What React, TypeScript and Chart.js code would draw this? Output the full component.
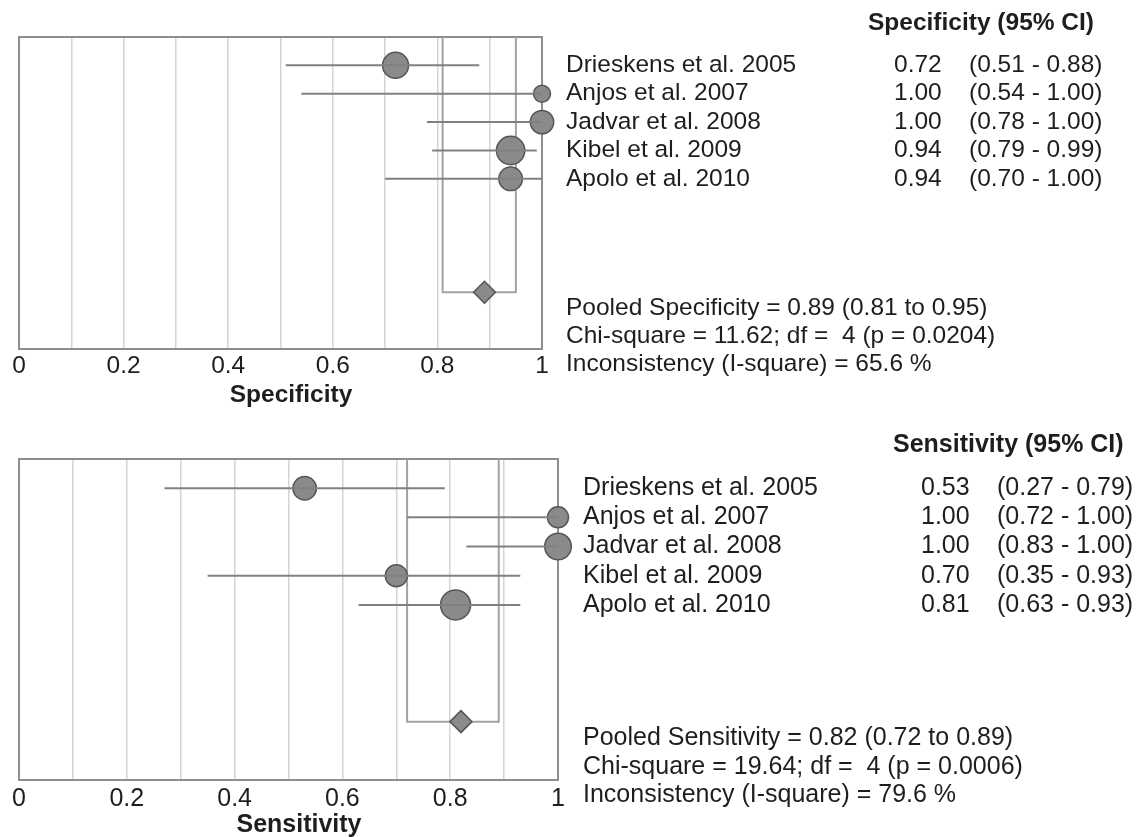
import React, { useEffect, useRef } from 'react';
import { Chart, registerables } from 'chart.js';

Chart.register(...registerables);

// ---------- data ----------
const STUDIES = [
  'Drieskens et al. 2005',
  'Anjos et al. 2007',
  'Jadvar et al. 2008',
  'Kibel et al. 2009',
  'Apolo et al. 2010',
];

const SPEC_EST = [0.72, 1.0, 1.0, 0.94, 0.94];
const SPEC_LO = [0.51, 0.54, 0.78, 0.79, 0.7];
const SPEC_HI = [0.88, 1.0, 1.0, 0.99, 1.0];
const SPEC_POOLED = [0.89, 0.81, 0.95]; // estimate, low, high
const SPEC_CHI = '11.62';
const SPEC_DF = 4;
const SPEC_P = '0.0204';
const SPEC_I2 = '65.6';

const SENS_EST = [0.53, 1.0, 1.0, 0.7, 0.81];
const SENS_LO = [0.27, 0.72, 0.83, 0.35, 0.63];
const SENS_HI = [0.79, 1.0, 1.0, 0.93, 0.93];
const SENS_POOLED = [0.82, 0.72, 0.89];
const SENS_CHI = '19.64';
const SENS_DF = 4;
const SENS_P = '0.0006';
const SENS_I2 = '79.6';

const X_TICK_LABELS = ['0', '0.2', '0.4', '0.6', '0.8', '1'];

// ---------- style / layout ----------
const FONT = '"Liberation Sans", Arial, Helvetica, sans-serif';
const TEXT = '#1e1e1e';
const FILL = '#8a8a8a';
const EDGE = '#555555';
const CI_COLOR = '#808080';
const GRID = '#d4d4d4';
const FRAME = '#8e8e8e';
const BRACKET = '#a2a2a2';

const POOLED_ROW = 9;
const Y_MAX = 11;
const HEADER_ROW = -0.48;
const STAT_ROWS = [9.56, 10.55, 11.53];

const SPEC_RADII = [13, 8.5, 11.7, 14.2, 11.8];
const SENS_RADII = [11.7, 10.5, 13.3, 11, 15];

interface PanelProps {
  top: number;
  height: number;
  area: { left: number; right: number; top: number; bottom: number };
  axisH: number;
  tickPad: number;
  fontSize: number;
  title: string;
  titleX: number;
  titleY: number;
  header: string;
  headerX: number;
  nameX: number;
  valX: number;
  ciX: number;
  est: number[];
  lo: number[];
  hi: number[];
  pooled: number[];
  radii: number[];
  diamondR: number;
  stats: string[];
}

function ForestPanel(p: PanelProps) {
  const ref = useRef<HTMLCanvasElement>(null);

  useEffect(() => {
    const canvas = ref.current;
    if (!canvas) return;
    const rows = p.est.map((_, i) => i + 1);

    const datasets: any[] = [];
    datasets.push({
      type: 'scatter',
      data: [{ x: p.pooled[0], y: POOLED_ROW }],
      pointStyle: 'rectRot',
      pointRadius: p.diamondR,
      backgroundColor: FILL,
      borderColor: EDGE,
      borderWidth: 1.5,
      order: 0,
      clip: false,
    });
    p.lo.forEach((lo, i) => {
      datasets.push({
        type: 'line',
        data: [
          { x: lo, y: rows[i] },
          { x: p.hi[i], y: rows[i] },
        ],
        borderColor: CI_COLOR,
        borderWidth: 2,
        pointRadius: 0,
        fill: false,
        order: 1,
        clip: false,
      });
    });
    datasets.push({
      type: 'scatter',
      data: p.est.map((e, i) => ({ x: e, y: rows[i] })),
      pointRadius: p.radii,
      backgroundColor: FILL,
      borderColor: EDGE,
      borderWidth: 1.5,
      order: 2,
      clip: false,
    });
    datasets.push({
      type: 'line',
      data: [
        { x: p.pooled[1], y: 0 },
        { x: p.pooled[1], y: POOLED_ROW },
        { x: p.pooled[2], y: POOLED_ROW },
        { x: p.pooled[2], y: 0 },
      ],
      borderColor: BRACKET,
      borderWidth: 2,
      pointRadius: 0,
      fill: false,
      order: 3,
    });

    const framePlugin = {
      id: 'frame',
      beforeDatasetsDraw(chart: any) {
        const { ctx, chartArea } = chart;
        ctx.save();
        ctx.strokeStyle = FRAME;
        ctx.lineWidth = 2;
        ctx.strokeRect(
          chartArea.left,
          chartArea.top,
          chartArea.right - chartArea.left,
          chartArea.bottom - chartArea.top
        );
        ctx.restore();
      },
    };

    const textPlugin = {
      id: 'forestText',
      afterDraw(chart: any) {
        const { ctx } = chart;
        const ys = chart.scales.y;
        ctx.save();
        ctx.fillStyle = TEXT;
        ctx.textBaseline = 'middle';
        ctx.textAlign = 'left';
        ctx.font = `bold ${p.fontSize}px ${FONT}`;
        ctx.fillText(p.header, p.headerX, ys.getPixelForValue(HEADER_ROW));
        ctx.font = `${p.fontSize}px ${FONT}`;
        STUDIES.forEach((s, i) => {
          const y = ys.getPixelForValue(rows[i]);
          ctx.fillText(s, p.nameX, y);
          ctx.fillText(p.est[i].toFixed(2), p.valX, y);
          ctx.fillText(`(${p.lo[i].toFixed(2)} - ${p.hi[i].toFixed(2)})`, p.ciX, y);
        });
        p.stats.forEach((s, i) => {
          ctx.fillText(s, p.nameX, ys.getPixelForValue(STAT_ROWS[i]));
        });
        ctx.font = `bold ${p.fontSize}px ${FONT}`;
        ctx.textAlign = 'center';
        ctx.fillText(p.title, p.titleX, p.titleY);
        ctx.restore();
      },
    };

    const chart = new Chart(canvas, {
      type: 'scatter',
      data: { datasets },
      options: {
        responsive: false,
        animation: false,
        events: [],
        layout: {
          padding: {
            left: p.area.left,
            right: 1142 - p.area.right,
            top: p.area.top,
            bottom: p.height - p.area.bottom - p.axisH,
          },
        },
        plugins: {
          legend: { display: false },
          tooltip: { enabled: false },
        },
        scales: {
          x: {
            type: 'linear',
            position: 'bottom',
            min: 0,
            max: 1,
            afterFit: (s: any) => {
              s.height = p.axisH;
            },
            border: { display: false },
            grid: { color: GRID, lineWidth: 1.5, drawTicks: false },
            ticks: {
              stepSize: 0.1,
              autoSkip: false,
              maxRotation: 0,
              padding: p.tickPad,
              color: TEXT,
              font: { family: FONT, size: p.fontSize },
              callback: (v: any) => {
                const r = Math.round(Number(v) * 10);
                return r % 2 === 0 ? X_TICK_LABELS[r / 2] : '';
              },
            },
          },
          y: {
            type: 'linear',
            min: 0,
            max: Y_MAX,
            reverse: true,
            display: false,
          },
        },
      } as any,
      plugins: [framePlugin, textPlugin],
    });
    return () => chart.destroy();
  }, []);

  return (
    <canvas
      ref={ref}
      width={1142}
      height={p.height}
      style={{ position: 'absolute', left: 0, top: p.top, width: 1142, height: p.height, display: 'block' }}
    />
  );
}

export default function App() {
  return (
    <div style={{ position: 'absolute', left: 0, top: 0, width: 1142, height: 837, background: '#ffffff', overflow: 'hidden' }}>
      <ForestPanel
        top={0}
        height={418}
        area={{ left: 19, right: 542, top: 37, bottom: 349 }}
        axisH={50}
        tickPad={3}
        fontSize={24.5}
        title="Specificity"
        titleX={291}
        titleY={395}
        header="Specificity (95% CI)"
        headerX={868}
        nameX={566}
        valX={894}
        ciX={969}
        est={SPEC_EST}
        lo={SPEC_LO}
        hi={SPEC_HI}
        pooled={SPEC_POOLED}
        radii={SPEC_RADII}
        diamondR={11}
        stats={[
          `Pooled Specificity = ${SPEC_POOLED[0].toFixed(2)} (${SPEC_POOLED[1].toFixed(2)} to ${SPEC_POOLED[2].toFixed(2)})`,
          `Chi-square = ${SPEC_CHI}; df =  ${SPEC_DF} (p = ${SPEC_P})`,
          `Inconsistency (I-square) = ${SPEC_I2} %`,
        ]}
      />
      <ForestPanel
        top={418}
        height={419}
        area={{ left: 19, right: 558, top: 41, bottom: 362 }}
        axisH={50}
        tickPad={4}
        fontSize={25}
        title="Sensitivity"
        titleX={299}
        titleY={407}
        header="Sensitivity (95% CI)"
        headerX={893}
        nameX={583}
        valX={921}
        ciX={997}
        est={SENS_EST}
        lo={SENS_LO}
        hi={SENS_HI}
        pooled={SENS_POOLED}
        radii={SENS_RADII}
        diamondR={11}
        stats={[
          `Pooled Sensitivity = ${SENS_POOLED[0].toFixed(2)} (${SENS_POOLED[1].toFixed(2)} to ${SENS_POOLED[2].toFixed(2)})`,
          `Chi-square = ${SENS_CHI}; df =  ${SENS_DF} (p = ${SENS_P})`,
          `Inconsistency (I-square) = ${SENS_I2} %`,
        ]}
      />
    </div>
  );
}
